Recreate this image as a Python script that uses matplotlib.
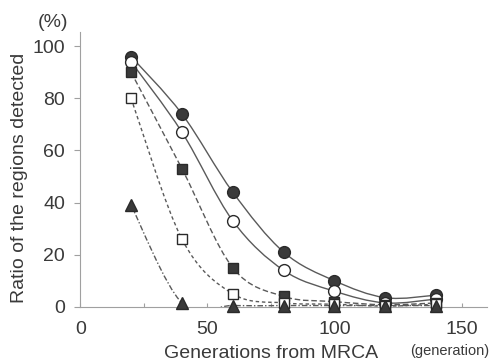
import numpy as np
import matplotlib.pyplot as plt
from matplotlib.path import Path
from matplotlib.patches import PathPatch

plt.rcParams['font.family'] = ['Liberation Sans', 'DejaVu Sans']

# generations from MRCA
gens = [20, 40, 60, 80, 100, 120, 140]

# ratio of the regions detected (%)
filled_circle = [96, 74, 44, 21, 10, 3.5, 4.5]
open_circle = [94, 67, 33, 14, 6, 1.5, 3]
filled_square = [90, 53, 15, 4, 2, 0.8, 1.5]
open_square = [80, 26, 5, 1.5, 1, 0.3, 1]
triangle = [39, 1.5, 0.5, 0.5, 0.5, 0.5, 0.5]

ink = '#3a3a3a'


def smooth_curve(ax, xs, ys, **kw):
    # catmull-rom through the points, drawn as cubic bezier segments
    pts = ax.transData.transform(np.column_stack([xs, ys]))
    verts = [pts[0]]
    codes = [Path.MOVETO]
    n = len(pts)
    for i in range(n - 1):
        p0 = pts[max(i - 1, 0)]
        p1 = pts[i]
        p2 = pts[i + 1]
        p3 = pts[min(i + 2, n - 1)]
        c1 = p1 + (p2 - p0) / 6.0
        c2 = p2 - (p3 - p1) / 6.0
        verts += [c1, c2, p2]
        codes += [Path.CURVE4] * 3
    ax.add_patch(PathPatch(Path(verts, codes), fill=False, transform=None, **kw))


fig = plt.figure(figsize=(4.95, 3.64), dpi=100)
ax = fig.add_axes([0.162, 0.157, 0.822, 0.755])
ax.set_xlim(0, 160)
ax.set_ylim(0, 105.4)

series = [
    (filled_circle, 'o', 8.5, ink, '-'),
    (open_circle, 'o', 8.5, 'white', '-'),
    (filled_square, 's', 7.5, ink, (0, (4, 2))),
    (open_square, 's', 7.5, 'white', (0, (2.5, 2))),
    (triangle, '^', 8.5, ink, (0, (4, 1.5, 1, 1.5))),
]

for ys, mk, ms, fc, ls in series:
    smooth_curve(ax, gens, ys, edgecolor='#5a5a5a', linewidth=1.0,
                 linestyle=ls, zorder=2)
    ax.plot(gens, ys, linestyle='none', marker=mk, markersize=ms,
            markerfacecolor=fc, markeredgecolor='#2a2a2a',
            markeredgewidth=1.0, zorder=3, clip_on=False)

for side in ['top', 'right']:
    ax.spines[side].set_visible(False)
for side in ['left', 'bottom']:
    ax.spines[side].set_color('#a0a0a0')
    ax.spines[side].set_linewidth(0.8)

ax.set_xticks([0, 50, 100, 150])
ax.set_xticks([25, 75, 125], minor=True)
ax.set_yticks([0, 20, 40, 60, 80, 100])
ax.tick_params(axis='both', colors='#a0a0a0', labelcolor=ink, labelsize=14,
               length=4, width=0.8)
ax.tick_params(axis='x', direction='in', pad=10, length=3)
ax.tick_params(axis='x', which='minor', direction='in', length=3,
               colors='#a0a0a0', width=0.8)
ax.tick_params(axis='y', direction='out', pad=7)

ax.set_xlabel('Generations from MRCA', fontsize=14, color=ink, va='baseline')
ax.xaxis.set_label_coords(0.469, -0.185)
ax.set_ylabel('Ratio of the regions detected', fontsize=14, color=ink,
              va='center')
ax.yaxis.set_label_coords(-0.15, 0.47)
fig.text(0.108, 0.937, '(%)', ha='center', va='center', fontsize=14, color=ink)
fig.text(0.909, 0.035, '(generation)', ha='center', va='center',
         fontsize=10.5, color=ink)

fig.savefig('out.png', dpi=100)
